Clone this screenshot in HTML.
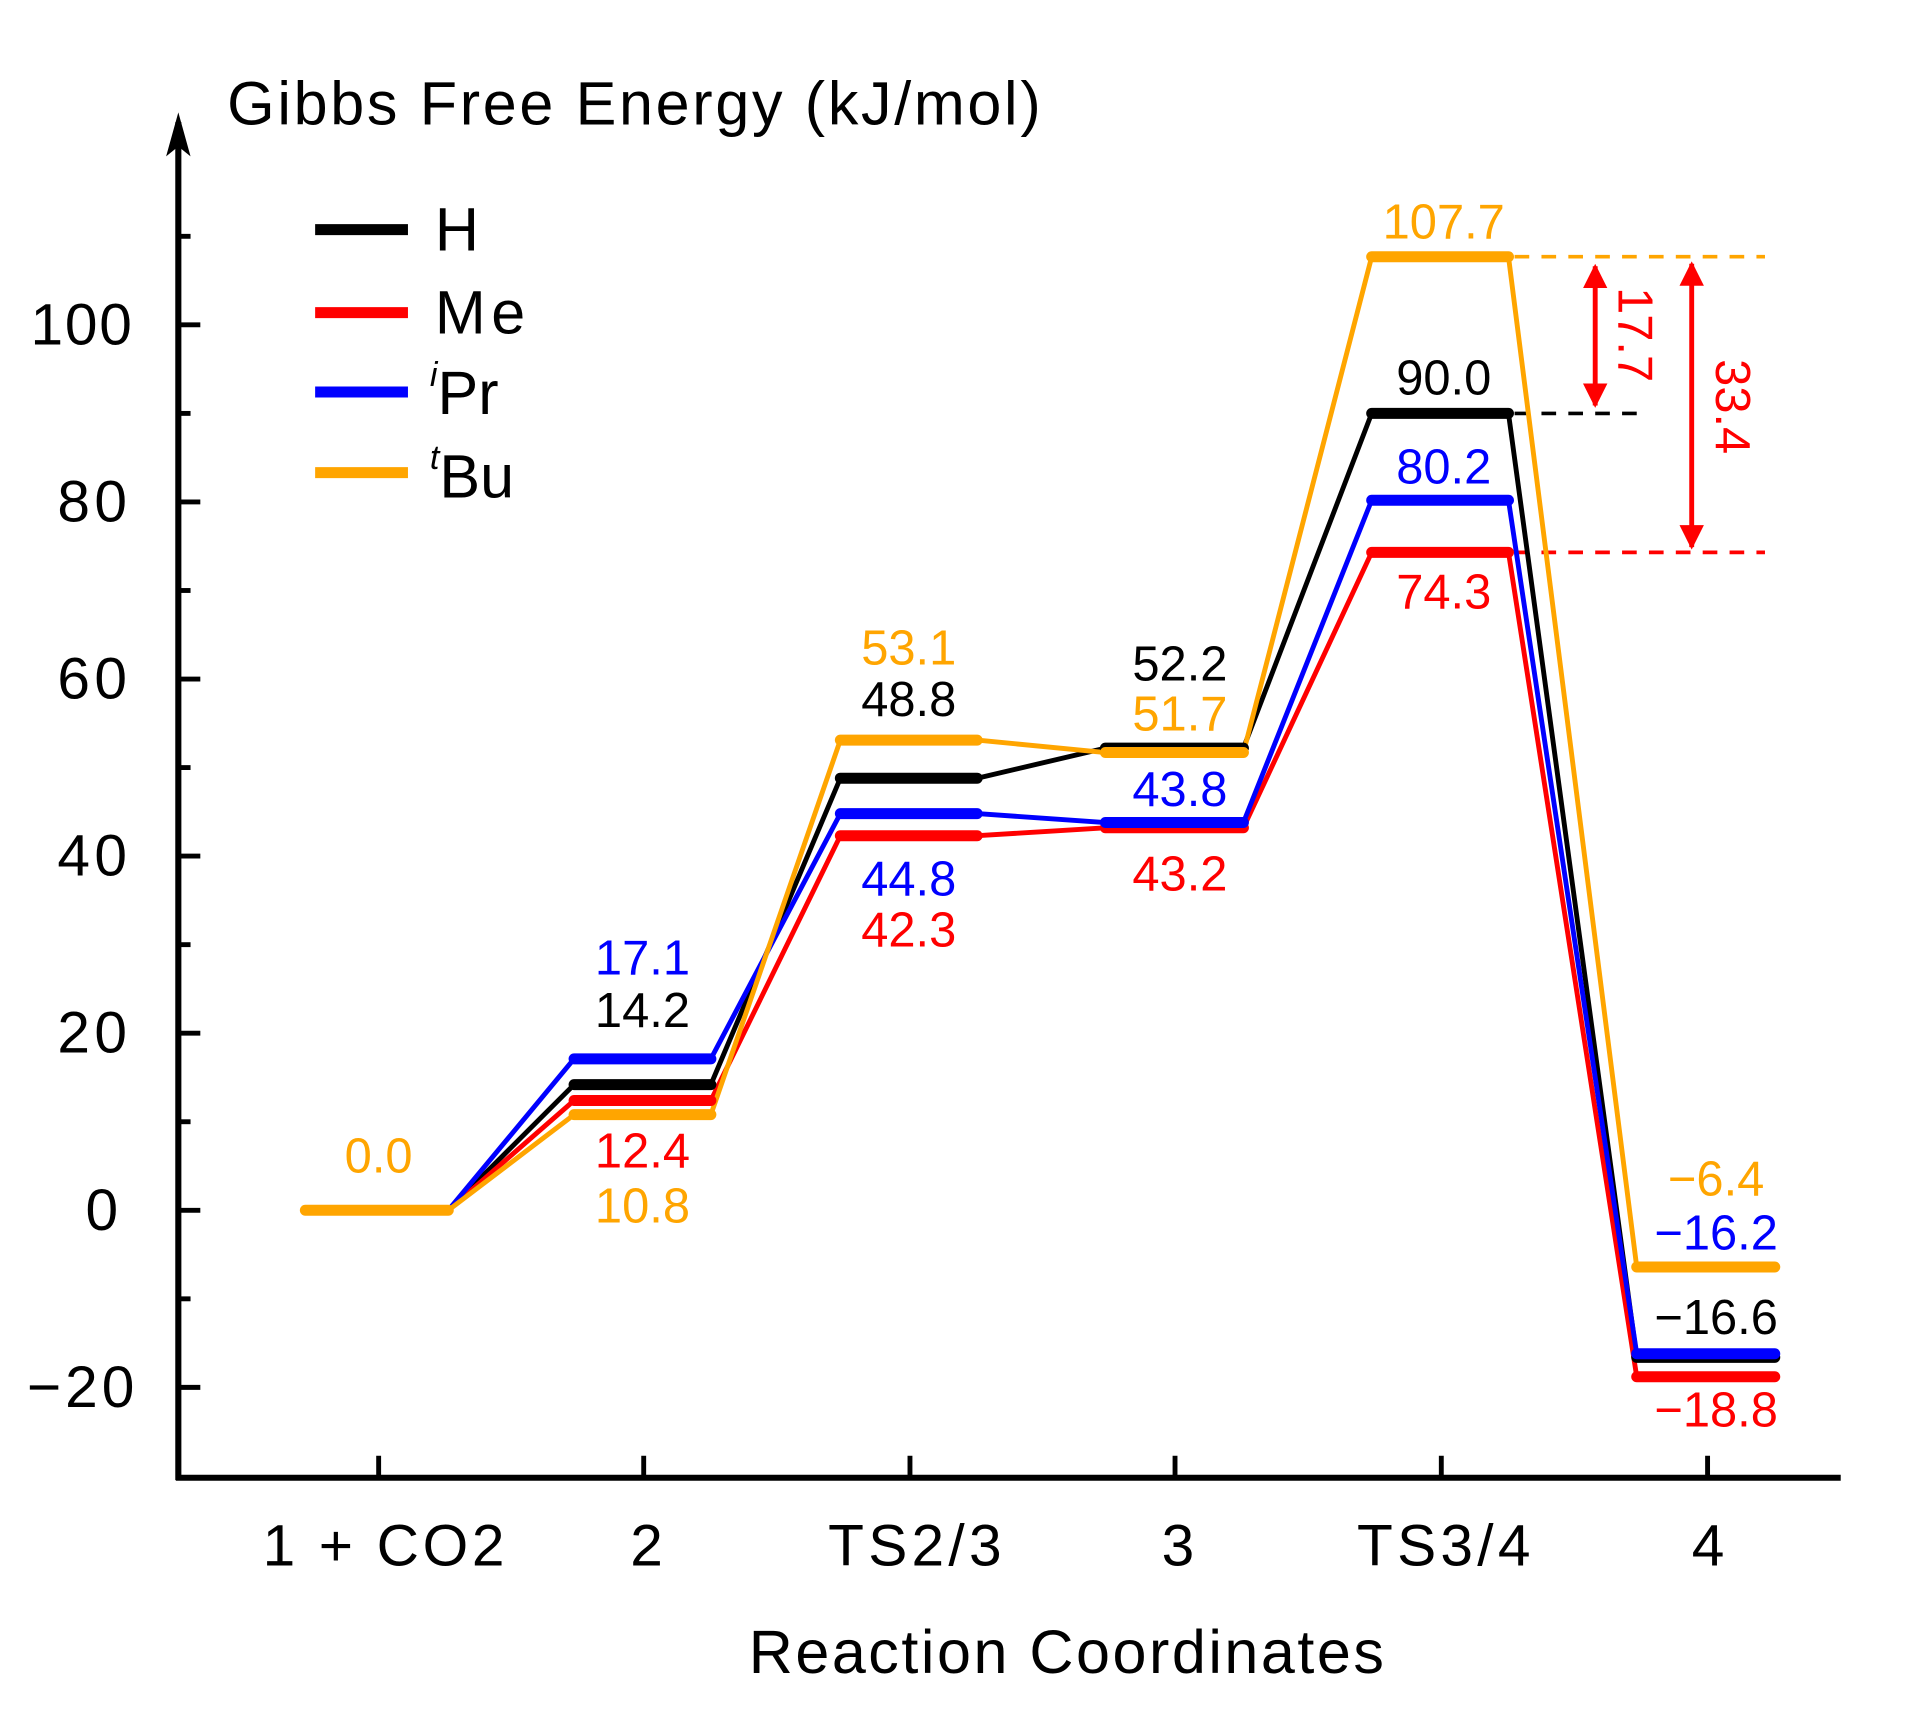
<!DOCTYPE html>
<html><head><meta charset="utf-8"><style>
html,body{margin:0;padding:0;background:#fff;}
svg{display:block;}
text{font-family:"Liberation Sans",sans-serif;}
</style></head><body>
<svg width="1914" height="1722" viewBox="0 0 1567 1410" preserveAspectRatio="none" xmlns="http://www.w3.org/2000/svg">
<defs>
<marker id="ah" viewBox="0 0 10 10" refX="9" refY="5" markerWidth="5" markerHeight="5" orient="auto-start-reverse"><path d="M0,0 L10,5 L0,10 z" fill="#f00"/></marker>
</defs>
<line x1="146" y1="100" x2="146" y2="1212" stroke="#000" stroke-width="5"/>
<path d="M146,92 L136,128 L146,120 L156,128 z" fill="#000"/>
<line x1="144" y1="1210" x2="1507" y2="1210" stroke="#000" stroke-width="5"/>
<g stroke="#000" stroke-width="4">
<line x1="146" y1="266" x2="164" y2="266"/><line x1="146" y1="411" x2="164" y2="411"/><line x1="146" y1="556" x2="164" y2="556"/><line x1="146" y1="701" x2="164" y2="701"/><line x1="146" y1="846" x2="164" y2="846"/><line x1="146" y1="991" x2="164" y2="991"/><line x1="146" y1="1136" x2="164" y2="1136"/>
<line x1="146" y1="193.5" x2="156" y2="193.5"/><line x1="146" y1="338.5" x2="156" y2="338.5"/><line x1="146" y1="483.5" x2="156" y2="483.5"/><line x1="146" y1="628.5" x2="156" y2="628.5"/><line x1="146" y1="773.5" x2="156" y2="773.5"/><line x1="146" y1="918.5" x2="156" y2="918.5"/><line x1="146" y1="1063.5" x2="156" y2="1063.5"/>
<line x1="310" y1="1210" x2="310" y2="1192"/><line x1="527" y1="1210" x2="527" y2="1192"/><line x1="745" y1="1210" x2="745" y2="1192"/><line x1="962" y1="1210" x2="962" y2="1192"/><line x1="1180" y1="1210" x2="1180" y2="1192"/><line x1="1398" y1="1210" x2="1398" y2="1192"/>
</g>
<g font-size="48" fill="#000" dominant-baseline="central">
<text x="25" y="266" textLength="83">100</text><text x="47" y="411" textLength="57">80</text><text x="47" y="556" textLength="57">60</text><text x="47" y="701" textLength="57">40</text><text x="47" y="846" textLength="57">20</text><text x="70" y="991">0</text><text x="22" y="1136" textLength="88">−20</text>
</g>
<g font-size="48" fill="#000">
<text x="215" y="1282" textLength="198">1 + CO2</text><text x="516" y="1282">2</text><text x="678" y="1282" textLength="142">TS2/3</text><text x="951" y="1282">3</text><text x="1111" y="1282" textLength="142">TS3/4</text><text x="1385" y="1282">4</text>
<text x="613" y="1370" font-size="50" textLength="520">Reaction Coordinates</text>
</g>
<text x="186" y="102" font-size="50" fill="#000" textLength="666">Gibbs Free Energy (kJ/mol)</text>
<g stroke-width="9">
<line x1="258" y1="188" x2="334" y2="188" stroke="#000"/>
<line x1="258" y1="256" x2="334" y2="256" stroke="#f00"/>
<line x1="258" y1="321" x2="334" y2="321" stroke="#00f"/>
<line x1="258" y1="387" x2="334" y2="387" stroke="#ffa500"/>
</g>
<g font-size="50" fill="#000" dominant-baseline="central">
<text x="356" y="188">H</text><text x="356" y="256" textLength="74">Me</text>
<text x="352" y="322"><tspan font-size="28" font-style="italic" dy="-15">i</tspan><tspan dy="15">Pr</tspan></text>
<text x="352" y="390"><tspan font-size="28" font-style="italic" dy="-15">t</tspan><tspan dy="15">Bu</tspan></text>
</g>
<g stroke-width="3" stroke-dasharray="12,10">
<line x1="1240" y1="210.2" x2="1445" y2="210.2" stroke="#ffa500"/>
<line x1="1240" y1="338.5" x2="1340" y2="338.5" stroke="#000"/>
<line x1="1240" y1="452.3" x2="1445" y2="452.3" stroke="#f00"/>
</g>
<line x1="1306" y1="218" x2="1306" y2="332" stroke="#f00" stroke-width="4" marker-start="url(#ah)" marker-end="url(#ah)"/>
<line x1="1385" y1="216" x2="1385" y2="448" stroke="#f00" stroke-width="4" marker-start="url(#ah)" marker-end="url(#ah)"/>
<text transform="translate(1325,274) rotate(90)" font-size="40" fill="#f00" text-anchor="middle">17.7</text>
<text transform="translate(1405,333) rotate(90)" font-size="40" fill="#f00" text-anchor="middle">33.4</text>
<g fill="none" stroke-linejoin="round">
<polyline stroke="#000" stroke-width="4" points="367,991 470,888.1 582,888.1 688,637.2 800,637.2 905,612.6 1018,612.6 1123,338.5 1235,338.5 1340,1111.4 1453,1111.4"/>
<polyline stroke="#f00" stroke-width="4" points="367,991 470,901.1 582,901.1 688,684.3 800,684.3 905,677.8 1018,677.8 1123,452.3 1235,452.3 1340,1127.3 1453,1127.3"/>
<polyline stroke="#00f" stroke-width="4" points="367,991 470,867 582,867 688,666.2 800,666.2 905,673.5 1018,673.5 1123,409.6 1235,409.6 1340,1108.5 1453,1108.5"/>
<polyline stroke="#ffa500" stroke-width="4" points="367,991 470,912.7 582,912.7 688,606 800,606 905,616.2 1018,616.2 1123,210.2 1235,210.2 1340,1037.4 1453,1037.4"/>
</g>
<g stroke-width="9" stroke-linecap="round">
<line x1="470" y1="888.1" x2="582" y2="888.1" stroke="#000"/><line x1="688" y1="637.2" x2="800" y2="637.2" stroke="#000"/><line x1="905" y1="612.6" x2="1018" y2="612.6" stroke="#000"/><line x1="1123" y1="338.5" x2="1235" y2="338.5" stroke="#000"/><line x1="1340" y1="1111.4" x2="1453" y2="1111.4" stroke="#000"/>
<line x1="470" y1="901.1" x2="582" y2="901.1" stroke="#f00"/><line x1="688" y1="684.3" x2="800" y2="684.3" stroke="#f00"/><line x1="905" y1="677.8" x2="1018" y2="677.8" stroke="#f00"/><line x1="1123" y1="452.3" x2="1235" y2="452.3" stroke="#f00"/><line x1="1340" y1="1127.3" x2="1453" y2="1127.3" stroke="#f00"/>
<line x1="470" y1="867" x2="582" y2="867" stroke="#00f"/><line x1="688" y1="666.2" x2="800" y2="666.2" stroke="#00f"/><line x1="905" y1="673.5" x2="1018" y2="673.5" stroke="#00f"/><line x1="1123" y1="409.6" x2="1235" y2="409.6" stroke="#00f"/><line x1="1340" y1="1108.5" x2="1453" y2="1108.5" stroke="#00f"/>
<line x1="250" y1="991" x2="367" y2="991" stroke="#ffa500"/><line x1="470" y1="912.7" x2="582" y2="912.7" stroke="#ffa500"/><line x1="688" y1="606" x2="800" y2="606" stroke="#ffa500"/><line x1="905" y1="616.2" x2="1018" y2="616.2" stroke="#ffa500"/><line x1="1123" y1="210.2" x2="1235" y2="210.2" stroke="#ffa500"/><line x1="1340" y1="1037.4" x2="1453" y2="1037.4" stroke="#ffa500"/>
</g>
<g font-size="40" text-anchor="middle" dominant-baseline="central">
<text x="310" y="947" fill="#ffa500">0.0</text>
<text x="526" y="785" fill="#00f">17.1</text><text x="526" y="828" fill="#000">14.2</text><text x="526" y="943" fill="#f00">12.4</text><text x="526" y="988" fill="#ffa500">10.8</text>
<text x="744" y="531" fill="#ffa500">53.1</text><text x="744" y="573" fill="#000">48.8</text><text x="744" y="720" fill="#00f">44.8</text><text x="744" y="762" fill="#f00">42.3</text>
<text x="966" y="544" fill="#000">52.2</text><text x="966" y="585" fill="#ffa500">51.7</text><text x="966" y="647" fill="#00f">43.8</text><text x="966" y="716" fill="#f00">43.2</text>
<text x="1182" y="182" fill="#ffa500">107.7</text><text x="1182" y="310" fill="#000">90.0</text><text x="1182" y="383" fill="#00f">80.2</text><text x="1182" y="485" fill="#f00">74.3</text>
<text x="1405" y="966" fill="#ffa500">−6.4</text><text x="1405" y="1010" fill="#00f">−16.2</text><text x="1405" y="1079" fill="#000">−16.6</text><text x="1405" y="1155" fill="#f00">−18.8</text>
</g>
</svg>
</body></html>
